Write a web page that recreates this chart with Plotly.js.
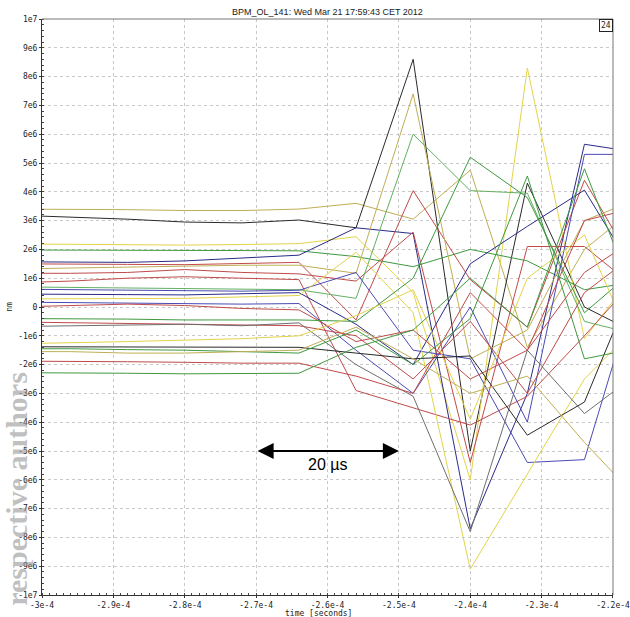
<!DOCTYPE html>
<html>
<head>
<meta charset="utf-8">
<script src="https://cdn.plot.ly/plotly-3.0.1.min.js"></script>
<style>html,body{margin:0;padding:0;background:#fff}#chart{width:630px;height:617px}</style>
</head>
<body>
<div id="chart"></div>
<script>
// sample times (seconds)
const times = [-3.04e-4, -2.96e-4, -2.88e-4, -2.80e-4, -2.72e-4, -2.64e-4, -2.56e-4, -2.48e-4, -2.40e-4, -2.32e-4, -2.24e-4, -2.16e-4];

// 24 BPM traces (nm)
const s01 = [3.40e6, 3.40e6, 3.38e6, 3.35e6, 3.35e6, 3.40e6, 3.60e6, 3.05e6, 4.75e6, -1.40e6, 2.00e6, 3.60e6];
const s02 = [3.19e6, 3.12e6, 3.05e6, 2.95e6, 2.92e6, 3.02e6, 2.75e6, 8.60e6, -5.00e6, 4.30e6, 0.00e6, -1.00e6];
const s03 = [2.19e6, 2.17e6, 2.15e6, 2.15e6, 2.17e6, 2.20e6, 2.44e6, 0.50e6, -6.00e6, 8.30e6, -1.10e6, 1.50e6];
const s04 = [1.98e6, 1.98e6, 1.97e6, 1.97e6, 1.96e6, 1.95e6, 1.75e6, 1.40e6, 2.00e6, 1.60e6, 0.60e6, 0.90e6];
const s05 = [1.57e6, 1.56e6, 1.55e6, 1.60e6, 1.70e6, 1.80e6, 2.75e6, 2.55e6, -7.70e6, -3.00e6, 5.65e6, 5.35e6];
const s06 = [1.50e6, 1.50e6, 1.48e6, 1.47e6, 1.50e6, 1.55e6, -0.45e6, 4.04e6, 0.95e6, -0.70e6, 4.40e6, 1.00e6];
const s07 = [1.32e6, 1.35e6, 1.38e6, 1.40e6, 1.45e6, 1.45e6, 1.17e6, 7.40e6, -1.80e6, -0.80e6, 3.00e6, 3.80e6];
const s08 = [1.17e6, 1.17e6, 1.20e6, 1.30e6, 1.20e6, 1.15e6, 0.90e6, 2.60e6, -5.40e6, 2.10e6, 2.10e6, 0.50e6];
const s09 = [0.84e6, 0.90e6, 1.00e6, 1.05e6, 1.00e6, 0.95e6, -2.90e6, -3.50e6, -4.10e6, -3.10e6, -1.00e6, 1.20e6];
const s10 = [0.70e6, 0.68e6, 0.65e6, 0.62e6, 0.62e6, 0.60e6, 0.30e6, 6.00e6, 4.04e6, 3.95e6, -0.50e6, -1.00e6];
const s11 = [0.62e6, 0.60e6, 0.58e6, 0.55e6, 0.55e6, 0.58e6, 1.20e6, -1.50e6, -1.80e6, -5.40e6, -5.30e6, 1.30e6];
const s12 = [0.45e6, 0.45e6, 0.43e6, 0.42e6, 0.45e6, 0.50e6, -0.60e6, -2.00e6, 1.50e6, 2.80e6, 4.06e6, 0.80e6];
const s13 = [0.28e6, 0.28e6, 0.30e6, 0.30e6, 0.35e6, 0.40e6, 1.90e6, -0.20e6, -9.10e6, -5.80e6, -2.50e6, -0.50e6];
const s14 = [0.17e6, 0.15e6, 0.12e6, 0.10e6, 0.10e6, 0.12e6, -1.50e6, -3.00e6, 0.00e6, -4.00e6, 5.30e6, 5.30e6];
const s15 = [0.00e6, 0.05e6, 0.10e6, 0.05e6, -0.05e6, -0.10e6, -1.20e6, -0.80e6, -2.50e6, -1.50e6, 1.20e6, 2.50e6];
const s16 = [-0.40e6, -0.40e6, -0.42e6, -0.45e6, -0.45e6, -0.45e6, -0.50e6, 1.00e6, 5.20e6, 3.80e6, -0.20e6, 1.50e6];
const s17 = [-0.52e6, -0.55e6, -0.57e6, -0.60e6, -0.62e6, -0.65e6, -1.00e6, -2.50e6, -0.50e6, -3.00e6, 0.50e6, 2.00e6];
const s18 = [-0.68e6, -0.65e6, -0.62e6, -0.60e6, -0.65e6, -0.55e6, -2.00e6, -3.10e6, -7.80e6, -1.50e6, -3.70e6, -2.20e6];
const s19 = [-1.28e6, -1.25e6, -1.20e6, -1.15e6, -1.10e6, -1.00e6, -0.30e6, 0.60e6, -3.90e6, 1.00e6, 2.50e6, -2.00e6];
const s20 = [-1.38e6, -1.38e6, -1.38e6, -1.38e6, -1.38e6, -1.40e6, -1.60e6, -1.80e6, -1.70e6, -4.45e6, -3.30e6, 1.50e6];
const s21 = [-1.45e6, -1.45e6, -1.48e6, -1.50e6, -1.55e6, -1.60e6, -0.80e6, -2.00e6, -0.40e6, 4.55e6, -1.80e6, -1.40e6];
const s22 = [-1.55e6, -1.55e6, -1.60e6, -1.60e6, -1.55e6, -1.50e6, -0.70e6, -1.80e6, -3.00e6, -2.40e6, -4.70e6, -6.80e6];
const s23 = [-1.88e6, -1.88e6, -1.90e6, -1.92e6, -1.95e6, -1.95e6, -2.40e6, -3.00e6, 0.50e6, -1.50e6, 3.00e6, 3.50e6];
const s24 = [-2.28e6, -2.28e6, -2.30e6, -2.32e6, -2.30e6, -2.30e6, -1.40e6, -0.80e6, 1.00e6, -0.70e6, 4.80e6, -0.30e6];

const series = [s01, s02, s03, s04, s05, s06, s07, s08, s09, s10, s11, s12,
                s13, s14, s15, s16, s17, s18, s19, s20, s21, s22, s23, s24];

// tick labels
const xTickVals = [-3e-4, -2.9e-4, -2.8e-4, -2.7e-4, -2.6e-4, -2.5e-4, -2.4e-4, -2.3e-4, -2.2e-4];
const xTickText = ["-3e-4", "-2.9e-4", "-2.8e-4", "-2.7e-4", "-2.6e-4", "-2.5e-4", "-2.4e-4", "-2.3e-4", "-2.2e-4"];
const yTickVals = [-1e7, -9e6, -8e6, -7e6, -6e6, -5e6, -4e6, -3e6, -2e6, -1e6, 0, 1e6, 2e6, 3e6, 4e6, 5e6, 6e6, 7e6, 8e6, 9e6, 1e7];
const yTickText = ["-1e7", "-9e6", "-8e6", "-7e6", "-6e6", "-5e6", "-4e6", "-3e6", "-2e6", "-1e6", "0", "1e6", "2e6", "3e6", "4e6", "5e6", "6e6", "7e6", "8e6", "9e6", "1e7"];

// styles
const OLIVE = "#bfae55", BLACK = "#2a2a2a", YELLOW = "#e3d34a", GREEN = "#3f9a3f",
      NAVY = "#2a2a88", RED = "#c04a4a", GRAY = "#6e6e6e", BLUE = "#4a4ab4", LGREEN = "#62b062";
const colors = [OLIVE, BLACK, YELLOW, GREEN, NAVY, RED, OLIVE, RED, RED, LGREEN, BLUE, NAVY,
                YELLOW, BLUE, RED, GREEN, RED, GRAY, YELLOW, BLACK, GREEN, OLIVE, RED, GREEN];

const traces = series.map((vals, i) => ({
  x: times, y: vals, type: "scatter", mode: "lines",
  line: {color: colors[i], width: 1}, hoverinfo: "skip", showlegend: false
}));

const mono = "DejaVu Sans Mono, monospace";
const layout = {
  width: 630, height: 617,
  margin: {l: 42, r: 17, t: 19, b: 22},
  paper_bgcolor: "#fff", plot_bgcolor: "#fff",
  title: {text: "BPM_OL_141: Wed Mar 21 17:59:43 CET 2012", font: {family: "Liberation Sans, Arial, sans-serif", size: 9, color: "#222"},
          x: 0.5, xref: "paper", y: 1 - 12/617, yref: "container", yanchor: "middle"},
  xaxis: {
    range: [-3.00001e-4, -2.19999e-4], tickmode: "array", tickvals: xTickVals, ticktext: xTickText,
    ticks: "outside", ticklen: 2, tickcolor: "#333", ticklabeloverflow: "allow",
    showgrid: true, gridcolor: "#c8c8c8", griddash: "dot", gridwidth: 1,
    showline: true, linecolor: "#333", linewidth: 1, mirror: false, zeroline: false,
    tickfont: {family: mono, size: 8, color: "#222"},
    minor: {tickmode: "linear", tick0: -3e-4, dtick: 1e-6, ticks: "inside", ticklen: 2, tickcolor: "#444", showgrid: false},
    automargin: false, fixedrange: true
  },
  yaxis: {
    range: [-1e7, 1e7], tickmode: "array", tickvals: yTickVals, ticktext: yTickText,
    ticks: "outside", ticklen: 2, tickcolor: "#333",
    showgrid: true, gridcolor: "#c8c8c8", griddash: "dot", gridwidth: 1,
    showline: true, linecolor: "#333", linewidth: 1, mirror: false, zeroline: false,
    tickfont: {family: mono, size: 8, color: "#222"},
    minor: {tickmode: "linear", tick0: 0, dtick: 2e5, ticks: "inside", ticklen: 2, tickcolor: "#444", showgrid: false},
    title: {text: "nm", font: {family: mono, size: 8, color: "#222"}, standoff: 4},
    automargin: false, fixedrange: true
  },
  shapes: [
    {type: "line", xref: "paper", yref: "paper", x0: 0, x1: 1, y0: 1, y1: 1, line: {color: "#777", width: 1}},
    {type: "line", xref: "paper", yref: "paper", x0: 1, x1: 1, y0: 0, y1: 1, line: {color: "#777", width: 1}}
  ],
  annotations: [
    {xref: "paper", yref: "paper", x: 0.485, y: -0.0318, xanchor: "center", yanchor: "middle",
     text: "time [seconds]", showarrow: false, font: {family: mono, size: 8, color: "#222"}},
    {xref: "x", yref: "y", axref: "x", ayref: "y", x: -2.5e-4, y: -5e6, ax: -2.7e-4, ay: -5e6,
     text: "", showarrow: true, arrowhead: 2, arrowside: "end+start", arrowsize: 1.6, arrowwidth: 2, arrowcolor: "#000"},
    {xref: "x", yref: "y", x: -2.6e-4, y: -5e6, yshift: -13, text: "20 µs", showarrow: false,
     font: {family: "Liberation Sans, Arial, sans-serif", size: 16, color: "#000"}},
    {xref: "paper", yref: "paper", x: 1, y: 1, xanchor: "right", yanchor: "top", text: "24", showarrow: false,
     font: {family: mono, size: 8, color: "#222"}, bordercolor: "#222", borderwidth: 1, borderpad: 1, bgcolor: "#fff"},
    {xref: "paper", yref: "paper", x: -0.045, y: 0.185, xanchor: "center", yanchor: "middle", textangle: -90,
     text: "<b>respective authors</b>", showarrow: false,
     font: {family: "Liberation Serif, Times New Roman, serif", size: 30, color: "rgba(150,150,150,0.6)"}}
  ]
};

Plotly.newPlot("chart", traces, layout, {staticPlot: true, displayModeBar: false});
</script>
</body>
</html>
